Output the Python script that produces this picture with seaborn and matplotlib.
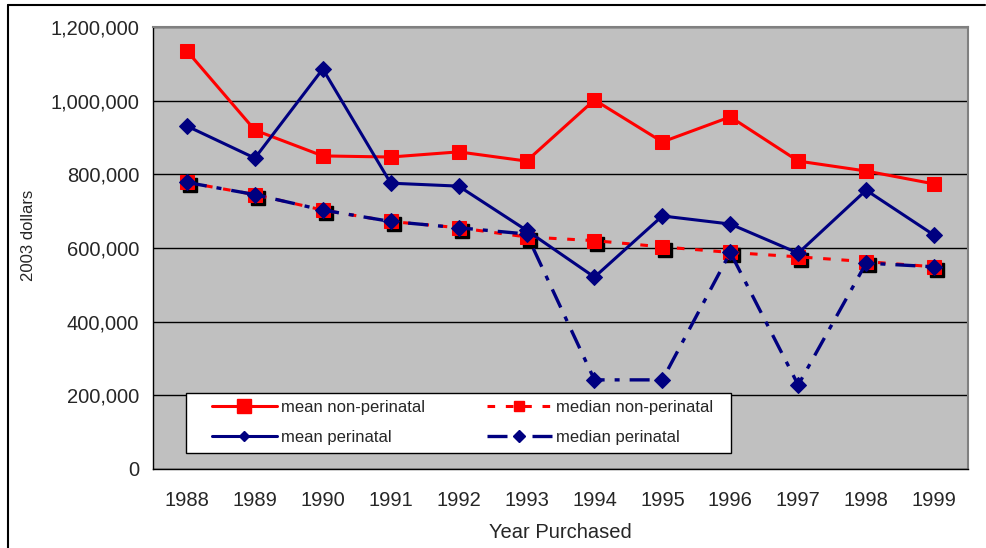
import numpy as np
import pandas as pd
import matplotlib
matplotlib.use("Agg")
import matplotlib.pyplot as plt
import matplotlib.transforms as mtransforms
from matplotlib.lines import Line2D
from matplotlib.patches import Rectangle
from matplotlib.ticker import FuncFormatter, FixedLocator
import seaborn as sns

# ----------------------------------------------
# Data
# ----------------------------------------------
years = [1988, 1989, 1990, 1991, 1992, 1993, 1994, 1995, 1996, 1997, 1998, 1999]
mean_non_perinatal = [1135000, 920000, 850000, 847000, 861000, 836000,
                      1002000, 888000, 956000, 836000, 809000, 774000]
mean_perinatal = [931000, 844000, 1086000, 776000, 768000, 648000,
                  521000, 687000, 665000, 586000, 757000, 635000]
median_non_perinatal = [778000, 745000, 703000, 672000, 655000, 630000,
                        620000, 603000, 588000, 576000, 563000, 549000]
median_perinatal = [778000, 745000, 703000, 672000, 655000, 638000,
                    242000, 242000, 588000, 228000, 559000, 549000]

df = pd.DataFrame({
    "year": years,
    "mean non-perinatal": mean_non_perinatal,
    "median non-perinatal": median_non_perinatal,
    "mean perinatal": mean_perinatal,
    "median perinatal": median_perinatal,
})

RED = "#FF0000"
NAVY = "#000080"

sns.set_style("white")
plt.rcParams["font.family"] = ["Liberation Sans", "DejaVu Sans"]

W, H = 987, 548
fig = plt.figure(figsize=(W / 100, H / 100), dpi=100)
ax = fig.add_axes([153 / W, 1 - 469 / H, 815 / W, 442 / H])
ax.set_facecolor("#C0C0C0")


def px_to_ax(x, y):
    # pixel position in the picture -> axes fraction
    return (x - 153) / 815, (469 - y) / 442


# ----------------------------------------------
# Series styles  (ms = chart marker, lms = legend marker)
# ----------------------------------------------
styles = {
    "mean non-perinatal": dict(color=RED, marker="s", ms=10, lms=10, lw=2.2, dashes=None),
    "median non-perinatal": dict(color=RED, marker="s", ms=10, lms=7, lw=2.2, dashes=(2.5, 3.5)),
    "mean perinatal": dict(color=NAVY, marker="D", ms=8.5, lms=5, lw=2.2, dashes=None),
    "median perinatal": dict(color=NAVY, marker="D", ms=8.5, lms=6, lw=2.4, dashes=(6, 3, 1.5, 3)),
}

# black drop shadow under the median non-perinatal squares
shadow_tr = mtransforms.offset_copy(ax.transData, fig=fig, x=3, y=-3, units="dots")
st = styles["median non-perinatal"]
ax.plot(df["year"], df["median non-perinatal"], ls="none", marker=st["marker"], ms=st["ms"],
        color="black", transform=shadow_tr, zorder=2)

for name in ["median non-perinatal", "mean non-perinatal", "median perinatal", "mean perinatal"]:
    st = styles[name]
    sns.lineplot(data=df, x="year", y=name, ax=ax, color=st["color"], marker=st["marker"],
                 markersize=st["ms"], markeredgecolor=st["color"], linewidth=st["lw"], zorder=3)
    if st["dashes"] is not None:
        ax.get_lines()[-1].set_dashes(st["dashes"])

# ----------------------------------------------
# Axes styling
# ----------------------------------------------
ax.set_xlim(years[0] - 0.5, years[-1] + 0.5)
ax.set_ylim(0, 1200000)
ax.set_yticks(np.arange(0, 1200001, 200000))
ax.yaxis.set_major_formatter(FuncFormatter(lambda v, p: f"{int(v):,}"))
ax.set_xticks(years)
ax.xaxis.set_minor_locator(FixedLocator(np.arange(years[0] - 0.5, years[-1] + 0.6, 1)))
ax.tick_params(axis="x", which="major", length=0, labelsize=14.5, pad=16)
ax.tick_params(axis="x", which="minor", length=6, width=1, color="black", direction="out")
ax.tick_params(axis="y", length=6, width=1, color="black", direction="out", labelsize=14.5, pad=4)
ax.grid(axis="y", color="black", lw=1)
ax.set_axisbelow(True)

for s in ["left", "bottom"]:
    ax.spines[s].set_color("black")
    ax.spines[s].set_linewidth(1)
for s in ["top", "right"]:
    ax.spines[s].set_color("#808080")
    ax.spines[s].set_linewidth(1.5)

ax.set_xlabel("Year Purchased", fontsize=14.5, labelpad=9)
ax.set_ylabel("2003 dollars", fontsize=12)
ax.yaxis.set_label_coords(*px_to_ax(36, 235))

# ----------------------------------------------
# Legend: white box + frameless legend inside
# ----------------------------------------------
x0, y0 = px_to_ax(186, 453)
x1, y1 = px_to_ax(731, 393)
ax.add_patch(Rectangle((x0, y0), x1 - x0, y1 - y0, transform=ax.transAxes,
                       facecolor="white", edgecolor="black", lw=1, zorder=5, clip_on=False))

order = ["mean non-perinatal", "mean perinatal", "median non-perinatal", "median perinatal"]
handles = []
for name in order:
    st = styles[name]
    h = Line2D([], [], color=st["color"], marker=st["marker"], markersize=st["lms"],
               markeredgecolor=st["color"], linewidth=st["lw"])
    if st["dashes"] is not None:
        h.set_dashes(st["dashes"])
    handles.append(h)

leg = ax.legend(handles, order, ncol=2, loc="upper left",
                bbox_to_anchor=px_to_ax(212, 400), fontsize=12, frameon=False,
                handlelength=3.9, handletextpad=0.25, borderpad=0, borderaxespad=0,
                labelspacing=0.88, columnspacing=3.7)
leg.set_zorder(6)

# figure border (top and left edges visible in the reference)
fig.add_artist(Line2D([8 / W, 8 / W], [0, 1 - 5 / H], color="black", lw=1.5, transform=fig.transFigure))
fig.add_artist(Line2D([8 / W, 985 / W], [1 - 5 / H, 1 - 5 / H], color="black", lw=1.5, transform=fig.transFigure))

fig.savefig("out.png", dpi=100)
